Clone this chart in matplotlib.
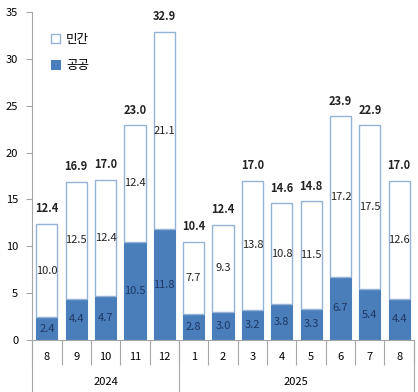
import numpy as np
import matplotlib
matplotlib.use("Agg")
from matplotlib import pyplot as plt

plt.rcParams['font.family'] = ['Liberation Sans Narrow', 'Noto Sans CJK KR', 'DejaVu Sans']

# data
months = ['8', '9', '10', '11', '12', '1', '2', '3', '4', '5', '6', '7', '8']
years = ['2024', '2025']
year_counts = [5, 8]
public = [2.4, 4.4, 4.7, 10.5, 11.8, 2.8, 3.0, 3.2, 3.8, 3.3, 6.7, 5.4, 4.4]
private = [10.0, 12.5, 12.4, 12.4, 21.1, 7.7, 9.3, 13.8, 10.8, 11.5, 17.2, 17.5, 12.6]
total = [12.4, 16.9, 17.0, 23.0, 32.9, 10.4, 12.4, 17.0, 14.6, 14.8, 23.9, 22.9, 17.0]

blue = '#4a7ebb'
edge = '#95b3d7'
grey = '#a6a6a6'

fig = plt.figure(figsize=(4.18, 3.92), dpi=100)
ax = fig.add_axes([0.077, 0.133, 0.913, 0.836])

x = np.arange(len(months))
w = 0.72
b1 = ax.bar(x, public, w, color=blue, edgecolor=blue, linewidth=0.8, label='공공')
b2 = ax.bar(x, private, w, bottom=public, color='white', edgecolor=edge, linewidth=1.0, label='민간')

for i in range(len(x)):
    ax.text(x[i], public[i] / 2, f"{public[i]:.1f}", ha='center', va='center',
            fontsize=8, color='#1f3864')
    ax.text(x[i], public[i] + private[i] / 2, f"{private[i]:.1f}", ha='center', va='center',
            fontsize=8, color='#222222')
    ax.annotate(f"{total[i]:.1f}", (x[i], public[i] + private[i]), xytext=(0, 6),
                textcoords='offset points', ha='center', va='bottom',
                fontsize=8, fontweight='bold', color='#222222')

ax.set_xlim(-0.5, len(months) - 0.5)
ax.set_ylim(0, 35)
ax.set_yticks(np.arange(0, 36, 5))
ax.tick_params(axis='y', length=4, width=0.8, color=grey, labelsize=8, pad=6)

# category axis
ax.set_xticks(x)
ax.set_xticklabels(months, fontsize=8)
ax.tick_params(axis='x', which='major', length=0, pad=9)
ax.set_xticks(np.arange(-0.5, len(months)), minor=True)
ax.tick_params(axis='x', which='minor', length=18, width=0.8, color=grey)

for s in ['top', 'right']:
    ax.spines[s].set_visible(False)
for s in ['left', 'bottom']:
    ax.spines[s].set_color(grey)
    ax.spines[s].set_linewidth(0.8)

# year groups
trans = ax.get_xaxis_transform()
start = -0.5
ax.plot([start, start], [0, -0.18], color=grey, lw=0.8, transform=trans, clip_on=False)
for yr, n in zip(years, year_counts):
    end = start + n
    ax.plot([end, end], [0, -0.18], color=grey, lw=0.8, transform=trans, clip_on=False)
    ax.text((start + end) / 2, -0.128, yr, ha='center', va='center', fontsize=8, transform=trans)
    start = end

ax.legend(handles=[b2, b1], loc='upper left', bbox_to_anchor=(0.02, 0.97), frameon=False,
          fontsize=9, handlelength=0.7, handleheight=0.7, handletextpad=0.5, labelspacing=1.0)

fig.savefig('out.png', dpi=100)
